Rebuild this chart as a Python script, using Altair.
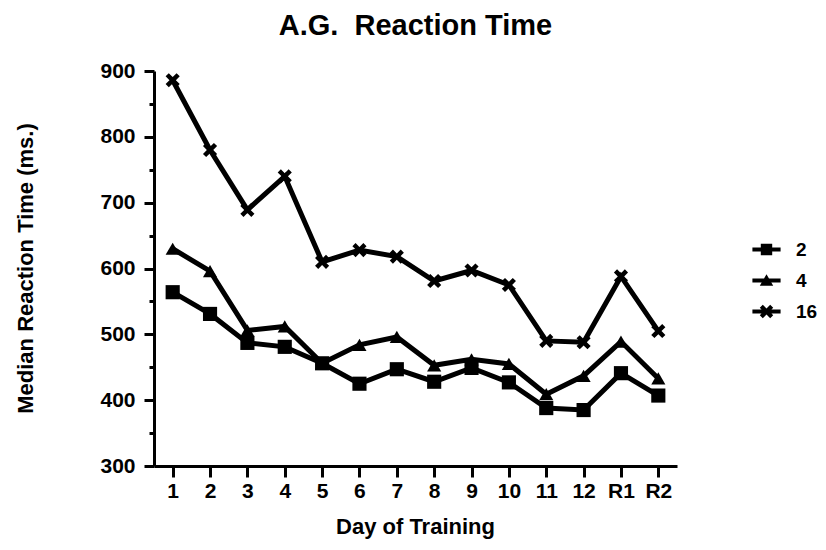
import altair as alt
import pandas as pd

days = ["1", "2", "3", "4", "5", "6", "7", "8", "9", "10", "11", "12", "R1", "R2"]
series = ["2", "4", "16"]
rt_2 = [564, 531, 487, 481, 456, 425, 447, 428, 449, 427, 388, 385, 441, 407]
rt_4 = [630, 596, 506, 512, 456, 484, 496, 453, 462, 455, 409, 437, 489, 433]
rt_16 = [886, 780, 689, 740, 610, 628, 618, 581, 597, 575, 490, 488, 588, 505]
y_ticks = list(range(300, 901, 50))

df = pd.DataFrame({
    "day": days * 3,
    "rt": rt_2 + rt_4 + rt_16,
    "series": [s for s in series for _ in days],
})

FONT = "Liberation Sans"
X_PATH = ("M-1,-0.55L-0.55,-1L0,-0.45L0.55,-1L1,-0.55L0.45,0L1,0.55L0.55,1"
          "L0,0.45L-0.55,1L-1,0.55L-0.45,0Z")
SQ_PATH = "M-0.85,-0.85H0.85V0.85H-0.85Z"
TRI_PATH = "M0,-0.95L1,0.8H-1Z"
BAR = "M-2.1,-0.3H2.1V0.3H-2.1Z "

x_enc = alt.X(
    "day:N", sort=days,
    scale=alt.Scale(type="point", domain=days, padding=0.5),
    axis=alt.Axis(
        title="Day of Training", labelAngle=0, grid=False,
        domainColor="black", domainWidth=3, tickColor="black", tickWidth=3,
        tickSize=11, labelFont=FONT, labelFontSize=21, labelFontWeight="bold",
        labelColor="black", labelPadding=3,
        titleFont=FONT, titleFontSize=22, titleFontWeight="bold", titleColor="black",
        titleX=261, titleY=60, titleBaseline="middle",
    ),
)
y_enc = alt.Y(
    "rt:Q",
    scale=alt.Scale(domain=[300, 900], nice=False, zero=False),
    axis=alt.Axis(
        title="Median Reaction Time (ms.)", values=y_ticks, grid=False,
        labelExpr="datum.value % 100 === 0 ? datum.label : ''",
        domainColor="black", domainWidth=3, tickColor="black", tickWidth=3,
        tickSize={"condition": {"test": "datum.value % 100 === 0", "value": 10}, "value": 5},
        labelFont=FONT, labelFontSize=21, labelFontWeight="bold", labelColor="black",
        labelPadding=9,
        titleFont=FONT, titleFontSize=22, titleFontWeight="bold", titleColor="black",
        titleX=-129, titleY=197, titleBaseline="middle",
    ),
)

base = alt.Chart(df)

lines = base.mark_line(color="black", strokeWidth=5).encode(
    x=x_enc, y=y_enc, detail="series:N"
)

points = base.mark_point(filled=True, color="black", opacity=1, size=200).encode(
    x=x_enc, y=y_enc,
    shape=alt.Shape("series:N",
                    scale=alt.Scale(domain=series, range=["square", "triangle-up", X_PATH]),
                    legend=None),
)

legend_layer = base.transform_filter("false").mark_point(
    filled=True, color="black", opacity=1, size=180
).encode(
    x=x_enc, y=y_enc,
    shape=alt.Shape("series:N",
                    scale=alt.Scale(domain=series,
                                    range=[BAR + SQ_PATH, BAR + TRI_PATH, BAR + X_PATH]),
                    legend=alt.Legend(
                        title=None, orient="none", legendX=603, legendY=169,
                        labelFont=FONT, labelFontSize=19, labelFontWeight="bold",
                        labelColor="black", symbolSize=180, symbolFillColor="black",
                        symbolStrokeWidth=0, labelOffset=20, rowPadding=11, padding=0,
                    )),
)

chart = alt.layer(lines, points, legend_layer).resolve_scale(
    shape="independent"
).properties(
    width=523, height=395,
    padding={"left": 146, "top": 63, "right": 141, "bottom": 76},
    autosize=alt.AutoSizeParams(type="none"),
    title=alt.TitleParams("A.G.\u00a0 Reaction Time", font=FONT, fontSize=29,
                          fontWeight="bold", color="black", anchor="middle",
                          offset=19),
    background="white",
).configure_view(stroke=None)

chart.save("out.html", embed_options={"renderer": "svg", "actions": False})
